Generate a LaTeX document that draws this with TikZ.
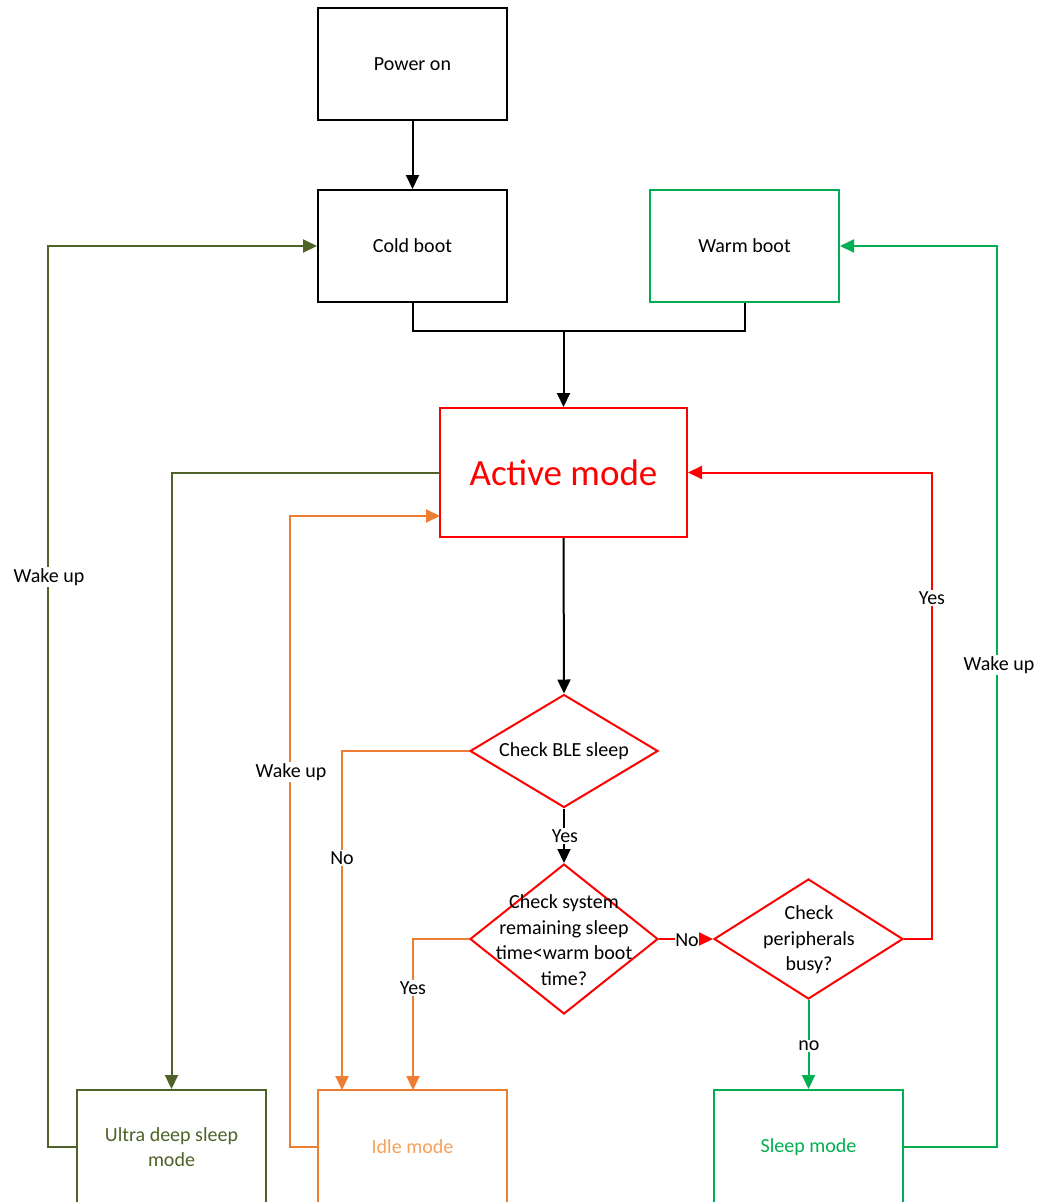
\documentclass[tikz,border=0pt]{standalone}
\usepackage{fontspec}
\setmainfont{Carlito}
\usetikzlibrary{shapes.geometric,arrows.meta}
\definecolor{myolive}{HTML}{4F6228}
\definecolor{myorange}{HTML}{ED7D31}
\definecolor{idletext}{HTML}{F7A15A}
\definecolor{mygreen}{HTML}{00B050}
\definecolor{myred}{HTML}{FF0000}
\begin{document}
\begin{tikzpicture}[x=1pt,y=-1pt,
  every node/.style={font=\fontsize{20}{25.5}\selectfont},
  box/.style={draw,line width=2pt,minimum width=189pt,minimum height=112pt,inner sep=0pt,align=center},
  dia/.style={draw=myred,line width=2pt,diamond,inner sep=0pt},
  txt/.style={align=center,inner sep=0pt},
  ln/.style={line width=2pt,line join=miter},
  arr/.style={ln,-{Triangle[length=14pt,width=13pt]}},
  lbl/.style={fill=white,inner sep=1.5pt}]
\useasboundingbox (0,0) rectangle (1042,1202);
\clip (0,0) rectangle (1042,1202);
\fill[white] (0,0) rectangle (1042,1202);

% boxes
\node[box] (power) at (412.5,64) {Power on};
\node[box] (cold) at (412.5,246) {Cold boot};
\node[box,draw=mygreen] (warm) at (744.5,246) {Warm boot};
\node[box,draw=myred,text=myred,minimum width=247pt,minimum height=129pt,font=\fontsize{37}{42}\selectfont] (active) at (563.5,472.5) {Active mode};
\node[box,draw=myolive,text=myolive,minimum height=114pt] (ultra) at (171.5,1147) {Ultra deep sleep\\mode};
\node[box,draw=myorange,text=idletext,minimum height=114pt] (idle) at (412.5,1147) {Idle mode};
\node[box,draw=mygreen,text=mygreen,minimum height=114pt] (sleep) at (808.5,1147) {Sleep mode};

% decisions
\node[dia,minimum width=188pt,minimum height=113pt] (ble) at (564,751) {};
\node[dia,minimum width=188pt,minimum height=150pt] (sys) at (564,939) {};
\node[dia,minimum width=189pt,minimum height=120pt] (per) at (808.5,939) {};
\node[txt] (bletxt) at (564,751) {Check BLE sleep};
\node[txt] (systxt) at (564,940) {Check system\\remaining sleep\\time<warm boot\\time?};
\node[txt] (pertxt) at (809,940) {Check\\peripherals\\busy?};

% helper coordinates
\coordinate (merge) at (563.5,331);
\coordinate (noin) at (342,1090);
\coordinate (yesin) at (413,1090);
\coordinate (rc) at (932,472.5);
\coordinate (gc) at (997,246);
\coordinate (oc) at (48,246);
\coordinate (ic) at (290,516);
\coordinate (actin) at (440,516);

% black connectors
\draw[arr] (power) -- (cold);
\draw[ln] (cold.south) |- (merge);
\draw[ln] (warm.south) |- (merge);
\draw[arr] (merge) -- (active.north);
\draw[arr] (active.south) -- (ble.north);
\draw[arr] (ble.south) -- (sys.north);

% orange
\draw[arr,draw=myorange] (ble.west) -| (noin);
\draw[arr,draw=myorange] (sys.west) -| (yesin);
\draw[arr,draw=myorange] (idle.west) -| (ic) -- (actin);

% red
\draw[arr,draw=myred] (sys.east) -- (per.west);
\draw[arr,draw=myred] (per.east) -| (rc) -- (active.east);

% green
\draw[arr,draw=mygreen] (per.south) -- (sleep.north);
\draw[arr,draw=mygreen] (sleep.east) -| (gc) -- (warm.east);

% olive
\draw[arr,draw=myolive] (active.west) -| (ultra.north);
\draw[arr,draw=myolive] (ultra.west) -| (oc) -- (cold.west);

% labels
\node[lbl] (lyes1) at (565,836) {Yes};
\node[lbl] (lno1) at (342,858) {No};
\node[lbl] (lyes2) at (413,988) {Yes};
\node[lbl,inner sep=0.5pt] (lno2) at (687,940) {No};
\node[lbl] (lyes3) at (932,598) {Yes};
\node[lbl] (lno3) at (809,1046) {no};
\node[lbl] (lwake1) at (49,577) {Wake up};
\node[lbl] (lwake2) at (291,772) {Wake up};
\node[lbl] (lwake3) at (999,665) {Wake up};
\end{tikzpicture}
\end{document}
